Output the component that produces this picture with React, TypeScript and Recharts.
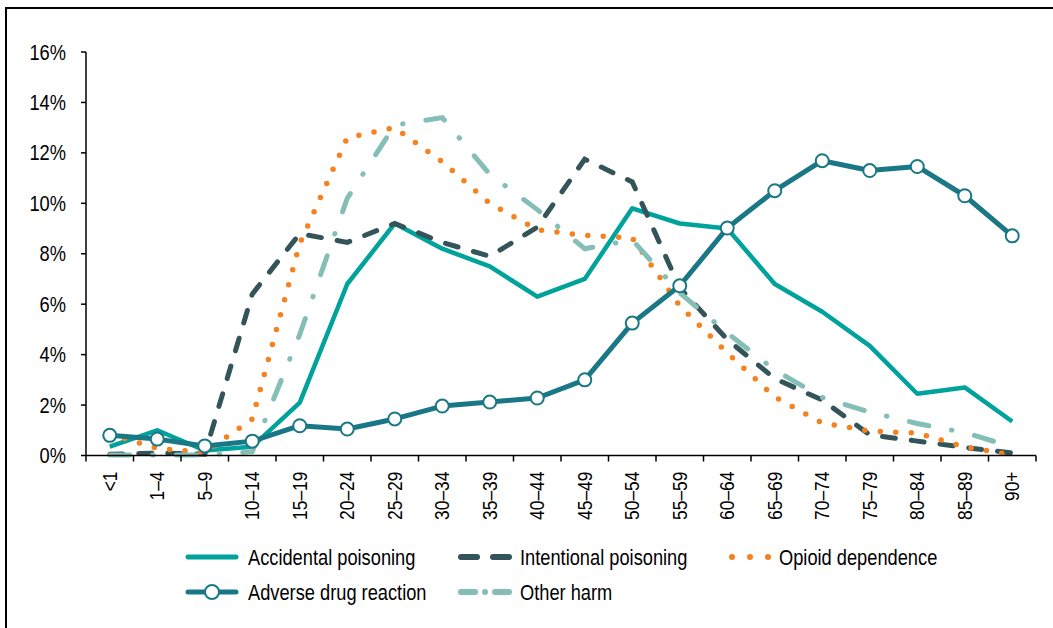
import { LineChart, Line, XAxis, YAxis } from "recharts";

const categories = [
  "<1", "1–4", "5–9", "10–14", "15–19", "20–24", "25–29", "30–34", "35–39", "40–44",
  "45–49", "50–54", "55–59", "60–64", "65–69", "70–74", "75–79", "80–84", "85–89", "90+",
];

const accidental = [0.35, 1.0, 0.2, 0.35, 2.1, 6.8, 9.2, 8.2, 7.5, 6.3, 7.0, 9.8, 9.2, 9.0, 6.8, 5.7, 4.35, 2.45, 2.7, 1.35];
const intentional = [0.05, 0.1, 0.05, 6.4, 8.8, 8.45, 9.2, 8.45, 7.9, 9.05, 11.75, 10.85, 6.65, 4.6, 3.05, 2.2, 0.82, 0.57, 0.32, 0.1];
const opioid = [0.85, 0.28, 0.12, 1.45, 8.4, 12.6, 13.0, 11.65, 10.0, 8.95, 8.73, 8.63, 5.93, 4.07, 2.32, 1.29, 0.97, 0.89, 0.34, 0.02];
const adverse = [0.8, 0.65, 0.38, 0.57, 1.18, 1.05, 1.45, 1.96, 2.12, 2.28, 3.0, 5.25, 6.73, 9.02, 10.5, 11.69, 11.3, 11.46, 10.3, 8.71];
const otherHarm = [0.02, 0.02, 0.02, 0.15, 4.8, 10.2, 13.1, 13.4, 11.15, 9.75, 8.2, 8.55, 6.45, 4.86, 3.39, 2.3, 1.72, 1.27, 0.91, 0.34];

const yTicks = [0, 2, 4, 6, 8, 10, 12, 14, 16];

const W = 1053;
const H = 628;
const LEFT = 86;
const RIGHT = 17;
const BAND = (W - LEFT - RIGHT) / categories.length;

// no Arial Narrow here, so squeeze Liberation Sans horizontally
const FONT = "'Liberation Sans', Arial, sans-serif";
const NARROW = 0.83;

const C_ACC = "#00A39B";
const C_INT = "#33555A";
const C_OPI = "#F5821F";
const C_ADR = "#1A7886";
const C_OTH = "#85BEB7";

const data = categories.map((cat, i) => ({
  cat,
  accidental: accidental[i],
  intentional: intentional[i],
  opioid: opioid[i],
  adverse: adverse[i],
  other: otherHarm[i],
}));

// label + boundary tick for each category (ticks sit between categories)
const XTick = (props: any) => {
  const { x, y, payload, index } = props;
  const axisY = y - 8;
  const half = BAND / 2;
  return (
    <g>
      <line x1={x - half} y1={axisY} x2={x - half} y2={axisY + 6} stroke="#000" strokeWidth={1.5} />
      {index === categories.length - 1 && (
        <line x1={x + half} y1={axisY} x2={x + half} y2={axisY + 6} stroke="#000" strokeWidth={1.5} />
      )}
      <text
        transform={`translate(${x},${axisY + 16}) rotate(-90) scale(${NARROW},1)`}
        textAnchor="end"
        dominantBaseline="central"
        fontSize={21}
        fontFamily={FONT}
        fill="#000"
      >
        {payload.value}
      </text>
    </g>
  );
};

const YTick = (props: any) => {
  const { x, y, payload } = props;
  return (
    <text
      transform={`translate(${x},${y}) scale(${NARROW},1)`}
      textAnchor="end"
      dominantBaseline="central"
      fontSize={22}
      fontFamily={FONT}
      fill="#000"
    >
      {`${payload.value}%`}
    </text>
  );
};

const LegendText = ({ x, y, children }: any) => (
  <text
    transform={`translate(${x},${y}) scale(${NARROW},1)`}
    fontSize={22}
    fontFamily={FONT}
    fill="#000"
    dominantBaseline="central"
  >
    {children}
  </text>
);

const Legend = () => {
  const r1 = 557;
  const r2 = 592;
  return (
    <svg width={W} height={H} style={{ position: "absolute", left: 0, top: 0, pointerEvents: "none" }}>
      <line x1={188} y1={r1} x2={236} y2={r1} stroke={C_ACC} strokeWidth={5} strokeLinecap="round" />
      <LegendText x={248} y={r1}>Accidental poisoning</LegendText>

      <line x1={461} y1={r1} x2={477} y2={r1} stroke={C_INT} strokeWidth={6} strokeLinecap="round" />
      <line x1={493} y1={r1} x2={509} y2={r1} stroke={C_INT} strokeWidth={6} strokeLinecap="round" />
      <LegendText x={520} y={r1}>Intentional poisoning</LegendText>

      <circle cx={732} cy={r1} r={3} fill={C_OPI} />
      <circle cx={750} cy={r1} r={3} fill={C_OPI} />
      <circle cx={768} cy={r1} r={3} fill={C_OPI} />
      <LegendText x={779} y={r1}>Opioid dependence</LegendText>

      <line x1={188} y1={r2} x2={236} y2={r2} stroke={C_ADR} strokeWidth={5} strokeLinecap="round" />
      <circle cx={212} cy={r2} r={7} fill="#fff" stroke={C_ADR} strokeWidth={2} />
      <LegendText x={248} y={r2}>Adverse drug reaction</LegendText>

      <line x1={461} y1={r2} x2={475} y2={r2} stroke={C_OTH} strokeWidth={6} strokeLinecap="round" />
      <circle cx={485} cy={r2} r={3} fill={C_OTH} />
      <line x1={495} y1={r2} x2={509} y2={r2} stroke={C_OTH} strokeWidth={6} strokeLinecap="round" />
      <LegendText x={520} y={r2}>Other harm</LegendText>
    </svg>
  );
};

export default function App() {
  return (
    <div style={{ position: "absolute", left: 0, top: 0, width: W, height: H, overflow: "hidden", background: "#fff" }}>
      <div
        style={{
          position: "absolute",
          left: 5,
          top: 7,
          width: 1200,
          height: 800,
          borderLeft: "2px solid #000",
          borderTop: "2px solid #000",
        }}
      />
      <div style={{ position: "absolute", left: 0, top: 0 }}>
        <LineChart width={W} height={H} data={data} margin={{ top: 52, right: RIGHT, left: 0, bottom: 92.5 }}>
          <XAxis
            dataKey="cat"
            interval={0}
            height={80}
            padding={{ left: BAND / 2, right: BAND / 2 }}
            tickLine={false}
            tickSize={6}
            tickMargin={2}
            axisLine={{ stroke: "#000", strokeWidth: 1.5 }}
            tick={<XTick />}
          />
          <YAxis
            width={LEFT}
            domain={[0, 16]}
            ticks={yTicks}
            interval={0}
            tickSize={5}
            tickMargin={15}
            axisLine={{ stroke: "#000", strokeWidth: 1.5 }}
            tickLine={{ stroke: "#000", strokeWidth: 1.5 }}
            tick={<YTick />}
          />
          <Line
            dataKey="accidental"
            stroke={C_ACC}
            strokeWidth={4.5}
            strokeLinejoin="round"
            dot={false}
            activeDot={false}
            isAnimationActive={false}
          />
          <Line
            dataKey="intentional"
            stroke={C_INT}
            strokeWidth={5}
            strokeDasharray="13 16"
            strokeLinecap="round"
            dot={false}
            activeDot={false}
            isAnimationActive={false}
          />
          <Line
            dataKey="opioid"
            stroke={C_OPI}
            strokeWidth={5.5}
            strokeDasharray="0 15.5"
            strokeLinecap="round"
            dot={false}
            activeDot={false}
            isAnimationActive={false}
          />
          <Line
            dataKey="adverse"
            stroke={C_ADR}
            strokeWidth={5}
            strokeLinejoin="round"
            dot={{ r: 6.5, fill: "#fff", stroke: C_ADR, strokeWidth: 2 }}
            activeDot={false}
            isAnimationActive={false}
          />
          <Line
            dataKey="other"
            stroke={C_OTH}
            strokeWidth={5}
            strokeDasharray="20 23 0.5 23"
            strokeLinecap="round"
            dot={false}
            activeDot={false}
            isAnimationActive={false}
          />
        </LineChart>
      </div>
      <Legend />
    </div>
  );
}
